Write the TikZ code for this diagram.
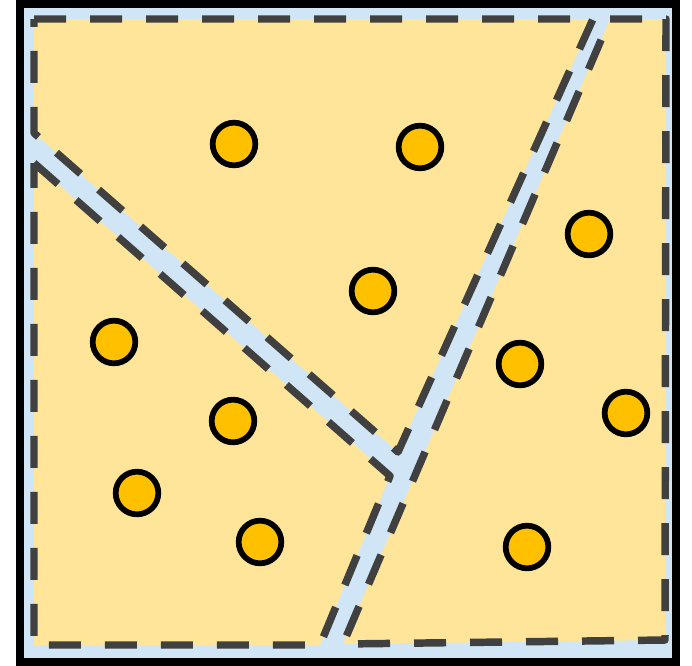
\documentclass[tikz,border=0pt]{standalone}
\begin{document}
\begin{tikzpicture}[x=0.75pt,y=-0.75pt,
  frame/.style={draw=black,line width=6pt,fill=chan},
  region/.style={fill=reg,draw=edge,line width=5.6pt,dash pattern=on 24pt off 18pt,line join=round},
  dot/.style={circle,draw=black,line width=4.3pt,fill=dotc,minimum size=32pt,inner sep=0pt}]
\definecolor{chan}{HTML}{D0E5F5}
\definecolor{reg}{HTML}{FFE599}
\definecolor{edge}{HTML}{404040}
\definecolor{dotc}{HTML}{FFC000}
\useasboundingbox (0,0) rectangle (692,665);
\draw[frame] (20,3.5) rectangle (676,662);
\draw[region] (34,19) -- (593,19) -- (398,452) -- (34,133) -- cycle;
\draw[region] (34,163) -- (390,476) -- (320,645) -- (34,645) -- cycle;
\draw[region] (610,19) -- (666,19) -- (665,640) -- (343,644) -- cycle;
\node[dot] (c1) at (234,144) {};
\node[dot] (c2) at (420,147) {};
\node[dot] (c3) at (589,234) {};
\node[dot] (c4) at (373,291) {};
\node[dot] (c5) at (114,342) {};
\node[dot] (c6) at (520,364) {};
\node[dot] (c7) at (233,421) {};
\node[dot] (c8) at (626,413) {};
\node[dot] (c9) at (137,493) {};
\node[dot] (c10) at (260,542) {};
\node[dot] (c11) at (527,547) {};
\end{tikzpicture}
\end{document}
